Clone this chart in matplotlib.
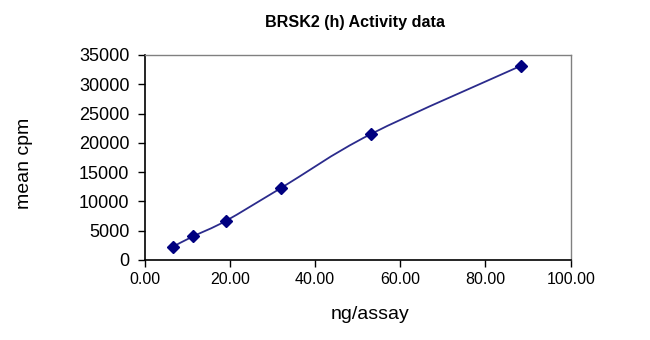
import numpy as np
import matplotlib
matplotlib.use("Agg")
import matplotlib.pyplot as plt
from matplotlib.path import Path
from matplotlib.patches import PathPatch

plt.rcParams["font.family"] = ["Liberation Sans", "DejaVu Sans"]

# data
ng_per_assay = [6.6, 11.4, 19.0, 31.9, 53.1, 88.4]
mean_cpm = [2270, 4050, 6660, 12240, 21500, 33180]

x_ticks = [0, 20, 40, 60, 80, 100]
y_ticks = [0, 5000, 10000, 15000, 20000, 25000, 30000, 35000]

LINE_COLOR = "#2b2b8c"
MARKER_COLOR = "#000080"


def smooth_path(xs, ys, tension=1 / 6):
    """Excel-style smoothed line: Catmull-Rom segments as cubic Beziers."""
    pts = np.column_stack([xs, ys]).astype(float)
    verts = [pts[0]]
    codes = [Path.MOVETO]
    n = len(pts)
    for i in range(n - 1):
        p0 = pts[i - 1] if i > 0 else pts[i]
        p1, p2 = pts[i], pts[i + 1]
        p3 = pts[i + 2] if i + 2 < n else pts[i + 1]
        c1 = p1 + (p2 - p0) * tension
        c2 = p2 - (p3 - p1) * tension
        verts += [c1, c2, p2]
        codes += [Path.CURVE4] * 3
    return Path(verts, codes)


fig = plt.figure(figsize=(6.5, 3.4), dpi=100)
ax = fig.add_axes([0.2226, 0.2353, 0.6554, 0.603])

ax.add_patch(PathPatch(smooth_path(ng_per_assay, mean_cpm), facecolor="none",
                       edgecolor=LINE_COLOR, lw=1.3))
ax.plot(ng_per_assay, mean_cpm, ls="none", marker="D", ms=6.5,
        color=MARKER_COLOR)

ax.set_xlim(0, 100)
ax.set_ylim(0, 35000)
ax.set_xticks(x_ticks)
ax.set_xticklabels([f"{v:.2f}" for v in x_ticks])
ax.set_yticks(y_ticks)
ax.set_yticklabels([str(v) for v in y_ticks])
ax.tick_params(axis="both", direction="out", length=5, width=1,
               colors="black")
ax.tick_params(axis="y", pad=6, labelsize=13)
ax.tick_params(axis="x", pad=4, labelsize=11.5)

for side in ("top", "right"):
    ax.spines[side].set_color("#808080")
    ax.spines[side].set_linewidth(1)
for side in ("left", "bottom"):
    ax.spines[side].set_color("black")
    ax.spines[side].set_linewidth(1.2)

fig.text(0.546, 0.935, "BRSK2 (h) Activity data", ha="center", va="center",
         fontsize=11.6, fontweight="bold")
fig.text(0.569, 0.074, "ng/assay", ha="center", va="center", fontsize=14)
fig.text(0.038, 0.52, "mean cpm", ha="center", va="center", fontsize=14,
         rotation=90)

fig.savefig("out.png", dpi=100)
